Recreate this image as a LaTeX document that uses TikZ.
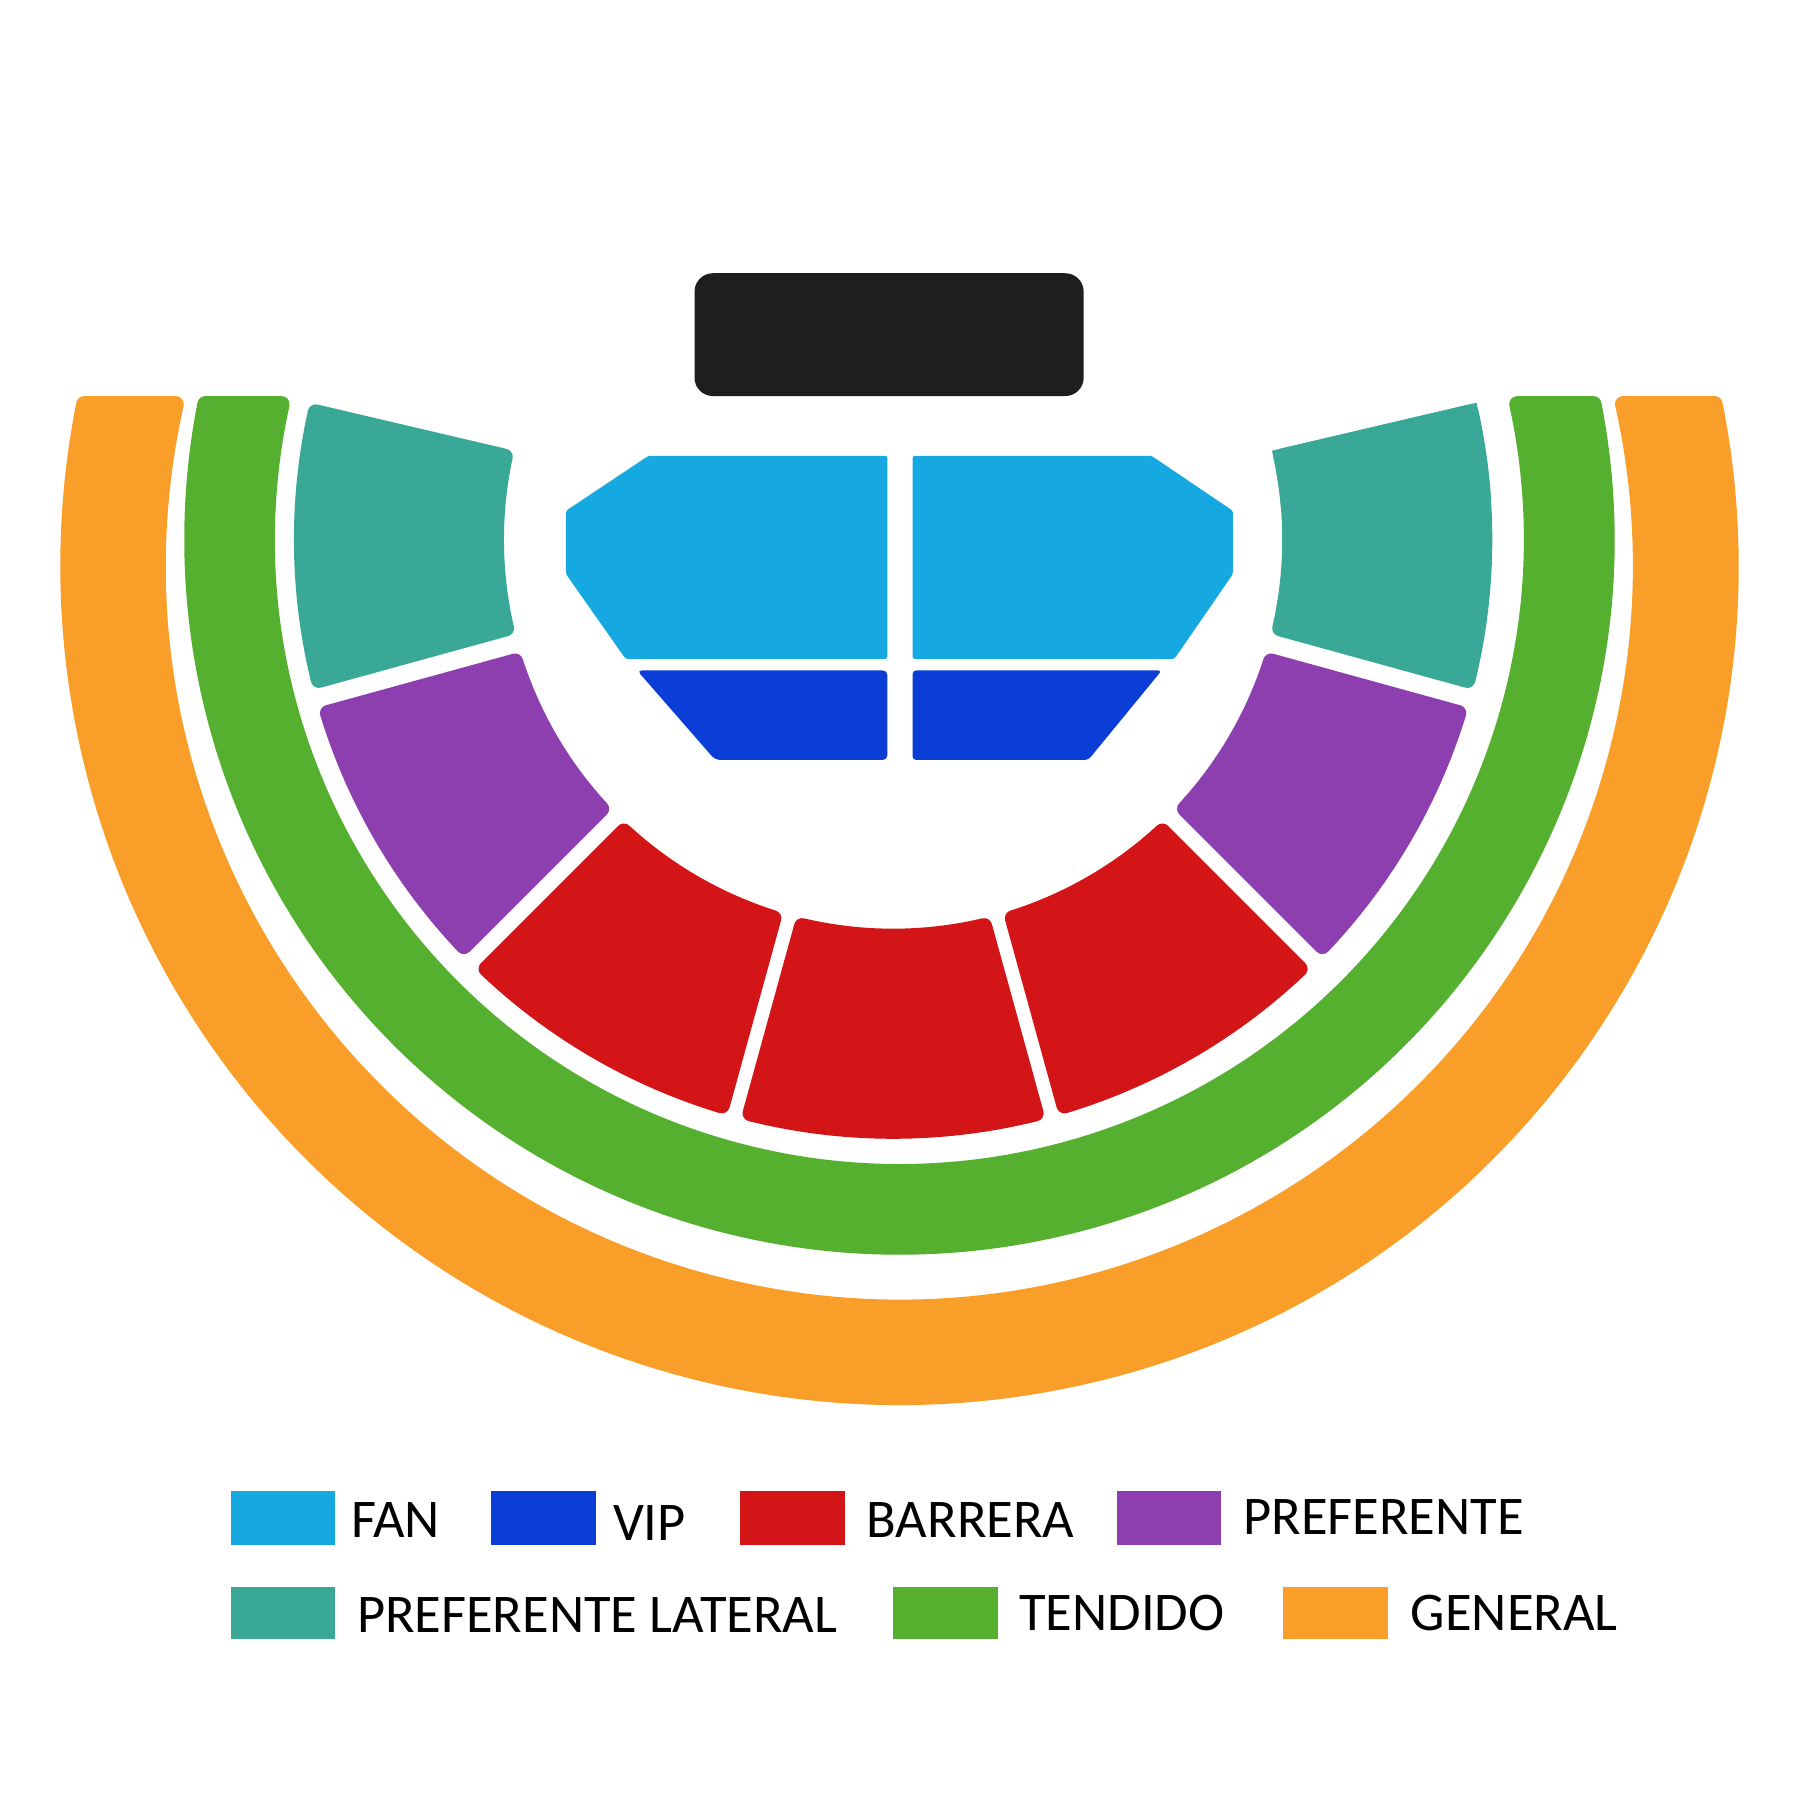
\documentclass[tikz,border=0pt]{standalone}
\usepackage{fontspec}
\setmainfont{Carlito}
\usetikzlibrary{calc}
\definecolor{cFan}{RGB}{22,169,225}
\definecolor{cVip}{RGB}{11,62,214}
\definecolor{cBar}{RGB}{212,21,24}
\definecolor{cPref}{RGB}{142,63,175}
\definecolor{cLat}{RGB}{58,168,150}
\definecolor{cTen}{RGB}{85,176,48}
\definecolor{cGen}{RGB}{250,158,42}
\definecolor{cStage}{RGB}{30,30,30}

\def\scx{778}\def\scy{470}\def\sri{339}\def\sro{522}\def\cr{7}

% annular sector with parallel-offset edges and rounded corners
\newcommand\sect[5]{%
 \pgfmathsetmacro\rA{\sri+\cr}%
 \pgfmathsetmacro\rB{\sro-\cr}%
 \pgfmathsetmacro\ia{#2+asin((#4+\cr)/\rA)}%
 \pgfmathsetmacro\ib{#3-asin((#5+\cr)/\rA)}%
 \pgfmathsetmacro\oa{#2+asin((#4+\cr)/\rB)}%
 \pgfmathsetmacro\ob{#3-asin((#5+\cr)/\rB)}%
 \fill[#1, draw=#1, line width=0.14cm, line join=round]
   ([shift={(\scx,\scy)}]\ia:\rA) arc[start angle=\ia, end angle=\ib, radius=\rA]
   -- ([shift={(\scx,\scy)}]\ob:\rB) arc[start angle=\ob, end angle=\oa, radius=\rB] -- cycle;
}

% band clipped at the top by y=345
\newcommand\band[5]{%
 \pgfmathsetmacro\rO{#4-\cr}%
 \pgfmathsetmacro\rI{#5+\cr}%
 \pgfmathsetmacro\so{asin((#3-345-\cr)/\rO)}%
 \pgfmathsetmacro\si{asin((#3-345-\cr)/\rI)}%
 \pgfmathsetmacro\aos{-\so}\pgfmathsetmacro\aoe{180+\so}%
 \pgfmathsetmacro\ais{180+\si}\pgfmathsetmacro\aie{-\si}%
 \fill[#1, draw=#1, line width=0.14cm, line join=round]
   ([shift={(#2,#3)}]\aos:\rO) arc[start angle=\aos, end angle=\aoe, radius=\rO]
   -- ([shift={(#2,#3)}]\ais:\rI) arc[start angle=\ais, end angle=\aie, radius=\rI] -- cycle;
}

\tikzset{
  legtext/.style={anchor=base west, inner sep=0pt, outer sep=0pt,
     font=\fontsize{13.5pt}{16pt}\selectfont, text=black}
}

\begin{document}
\begin{tikzpicture}[x=0.01cm, y=-0.01cm]
\useasboundingbox (0,0) rectangle (1568,1568);
\fill[white] (0,0) rectangle (1568,1568);

% outer bands
\band{cGen}{783.5}{493}{731}{639}
\band{cTen}{783.5}{470}{623}{544}

% sections
\sect{cLat}{-13.2}{15.4}{0}{8}
\fill[cLat] ([shift={(\scx,\scy)}]-13.2:\sri) arc[start angle=-13.2, end angle=-4, radius=\sri]
   -- ([shift={(\scx,\scy)}]-4:\sro) arc[start angle=-4, end angle=-13.2, radius=\sro] -- cycle;
\sect{cPref}{15.4}{45}{8}{7}
\sect{cBar}{45}{74.6}{7}{6}
\sect{cBar}{74.6}{105.4}{6}{6}
\sect{cBar}{105.4}{135}{6}{7}
\sect{cPref}{135}{164.6}{7}{8}
\sect{cLat}{164.6}{193.2}{8}{0}

% stage
\fill[cStage, rounded corners=0.16cm] (605,238) rectangle (944,345);

% fan
\fill[cFan, rounded corners=0.02cm] (565,397) -- (773,397) -- (773,574) -- (545,574) -- (493,500) -- (493,445) -- cycle;
\fill[cFan, rounded corners=0.02cm] (795,397) -- (1003,397) -- (1074,445) -- (1074,500) -- (1023,574) -- (795,574) -- cycle;
% vip
\fill[cVip, rounded corners=0.04cm] (555,584) -- (773,584) -- (773,662) -- (623,662) -- cycle;
\fill[cVip, rounded corners=0.03cm] (795,584) -- (1012,584) -- (948,662) -- (795,662) -- cycle;

% legend
\fill[cFan]  (201,1299) rectangle (292,1346);
\fill[cVip]  (428,1299) rectangle (519,1346);
\fill[cBar]  (645,1299) rectangle (736,1346);
\fill[cPref] (973,1299) rectangle (1064,1346);
\fill[cLat]  (201,1382) rectangle (292,1428);
\fill[cTen]  (778,1382) rectangle (869,1428);
\fill[cGen]  (1118,1382) rectangle (1209,1428);

\node[legtext] (tfan) at (306,1339) {FAN};
\node[legtext] (tvip) at (534,1342) {VIP};
\node[legtext] (tbar) at (755,1339) {BARRERA};
\node[legtext] (tpref) at (1083,1337) {PREFERENTE};
\node[legtext] (tlat) at (311,1422) {PREFERENTE LATERAL};
\node[legtext] (tten) at (888,1420) {TENDIDO};
\node[legtext] (tgen) at (1229,1420) {GENERAL};
\end{tikzpicture}
\end{document}
